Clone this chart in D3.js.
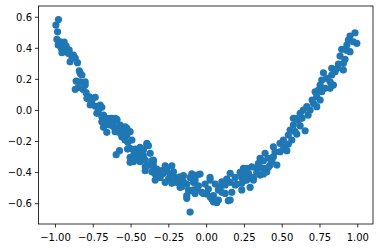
<!DOCTYPE html>
<html>
<head>
<meta charset="utf-8">
<script src="https://cdn.jsdelivr.net/npm/d3@7"></script>
<style>
  body { margin: 0; background: #fff; }
  svg { display: block; }
  text { font-family: "DejaVu Sans", sans-serif; }
</style>
</head>
<body>
<div id="chart"></div>
<script>
// scatter values, [x, y]
const points = [
  [-0.977, 0.582], [-0.994, 0.546], [-0.983, 0.503], [-0.987, 0.454], [-0.966, 0.439],
  [-0.952, 0.424], [-0.939, 0.437], [-0.979, 0.418], [-0.959, 0.398], [-0.946, 0.405],
  [-0.926, 0.411], [-0.919, 0.392], [-0.933, 0.379], [-0.954, 0.368], [-0.911, 0.364],
  [-0.906, 0.385], [-0.878, 0.353], [-0.888, 0.342], [-0.900, 0.310], [-0.851, 0.304],
  [-0.866, 0.334], [-0.839, 0.252], [-0.833, 0.236], [-0.822, 0.225], [-0.860, 0.186],
  [-0.833, 0.181], [-0.800, 0.181], [-0.845, 0.145], [-0.815, 0.133], [-0.866, 0.133],
  [-0.800, 0.160], [-0.794, 0.111], [-0.772, 0.085], [-0.734, 0.081], [-0.762, 0.053],
  [-0.755, 0.064], [-0.789, 0.075], [-0.767, 0.032], [-0.734, 0.025], [-0.701, 0.032],
  [-0.706, 0.017], [-0.690, 0.017], [-0.712, -0.001], [-0.723, -0.022], [-0.690, -0.044],
  [-0.679, -0.033], [-0.657, -0.054], [-0.624, -0.054], [-0.591, -0.060], [-0.635, -0.054],
  [-0.602, -0.054], [-0.690, -0.076], [-0.657, -0.065], [-0.624, -0.076], [-0.591, -0.065],
  [-0.635, -0.097], [-0.569, -0.097], [-0.524, -0.118], [-0.547, -0.118], [-0.580, -0.118],
  [-0.679, -0.112], [-0.657, -0.144], [-0.613, -0.102], [-0.580, -0.144], [-0.547, -0.176],
  [-0.518, -0.208], [-0.573, -0.262], [-0.595, -0.288], [-0.520, -0.252], [-0.503, -0.305],
  [-0.503, -0.337], [-0.668, -0.097], [-0.624, -0.086], [-0.602, -0.140], [-0.613, -0.108],
  [-0.536, -0.108], [-0.503, -0.140], [-0.558, -0.172], [-0.536, -0.194], [-0.524, -0.162],
  [-0.491, -0.194], [-0.503, -0.247], [-0.481, -0.258], [-0.448, -0.269], [-0.392, -0.226],
  [-0.458, -0.301], [-0.425, -0.290], [-0.481, -0.333], [-0.437, -0.333], [-0.370, -0.279],
  [-0.370, -0.355], [-0.349, -0.333], [-0.403, -0.366], [-0.558, -0.155], [-0.524, -0.144],
  [-0.470, -0.252], [-0.437, -0.241], [-0.382, -0.230], [-0.481, -0.295], [-0.458, -0.316],
  [-0.415, -0.295], [-0.359, -0.327], [-0.403, -0.391], [-0.392, -0.359], [-0.349, -0.359],
  [-0.326, -0.380], [-0.337, -0.412], [-0.293, -0.391], [-0.304, -0.434], [-0.271, -0.359],
  [-0.227, -0.359], [-0.238, -0.412], [-0.249, -0.445], [-0.216, -0.434], [-0.271, -0.466],
  [-0.194, -0.466], [-0.183, -0.434], [-0.161, -0.466], [-0.150, -0.423], [-0.172, -0.498],
  [-0.128, -0.477], [-0.106, -0.434], [-0.095, -0.412], [-0.084, -0.466], [-0.128, -0.552],
  [-0.095, -0.520], [-0.106, -0.657], [-0.040, -0.413], [-0.051, -0.488], [-0.062, -0.509],
  [-0.028, -0.530], [-0.007, -0.477], [0.005, -0.541], [0.026, -0.434], [0.015, -0.509],
  [0.038, -0.573], [0.071, -0.595], [0.048, -0.552], [0.060, -0.477], [0.093, -0.498],
  [0.104, -0.530], [0.137, -0.445], [0.159, -0.466], [0.147, -0.584], [0.170, -0.530],
  [0.192, -0.434], [0.203, -0.477], [0.225, -0.402], [0.236, -0.434], [0.269, -0.412],
  [0.280, -0.434], [-0.392, -0.215], [-0.415, -0.258], [-0.403, -0.322], [-0.349, -0.322],
  [-0.359, -0.398], [-0.315, -0.419], [-0.337, -0.451], [-0.282, -0.408], [-0.260, -0.376],
  [-0.216, -0.398], [-0.227, -0.472], [-0.172, -0.430], [-0.150, -0.462], [-0.161, -0.494],
  [-0.128, -0.569], [-0.117, -0.515], [-0.073, -0.451], [-0.084, -0.515], [-0.062, -0.419],
  [-0.073, -0.537], [-0.018, -0.537], [0.026, -0.559], [0.048, -0.591], [0.081, -0.580],
  [0.026, -0.451], [0.104, -0.462], [0.126, -0.483], [0.081, -0.515], [0.126, -0.537],
  [0.159, -0.580], [0.159, -0.408], [0.192, -0.483], [0.247, -0.376], [0.236, -0.472],
  [0.258, -0.451], [0.236, -0.515], [0.280, -0.408], [0.589, -0.054], [0.577, -0.097],
  [0.556, -0.129], [0.589, -0.140], [0.544, -0.162], [0.567, -0.194], [0.511, -0.194],
  [0.489, -0.215], [0.522, -0.237], [0.445, -0.237], [0.456, -0.269], [0.489, -0.269],
  [0.390, -0.279], [0.412, -0.311], [0.445, -0.301], [0.468, -0.355], [0.423, -0.355],
  [0.357, -0.311], [0.346, -0.344], [0.335, -0.376], [0.379, -0.376], [0.401, -0.398],
  [0.302, -0.366], [0.269, -0.376], [0.247, -0.419], [0.269, -0.451], [0.313, -0.451],
  [0.357, -0.419], [0.622, -0.102], [0.655, -0.134], [0.600, -0.155], [0.511, -0.252],
  [0.544, -0.219], [0.534, -0.262], [0.379, -0.327], [0.435, -0.327], [0.412, -0.369],
  [0.357, -0.369], [0.335, -0.401], [0.379, -0.412], [0.313, -0.434], [0.291, -0.498],
  [0.985, 0.497], [0.952, 0.476], [0.974, 0.439], [0.997, 0.429], [0.941, 0.450],
  [0.931, 0.418], [0.897, 0.390], [0.952, 0.375], [0.919, 0.326], [0.908, 0.300],
  [0.875, 0.295], [0.868, 0.268], [0.908, 0.257], [0.831, 0.268], [0.853, 0.246],
  [0.831, 0.225], [0.776, 0.239], [0.798, 0.203], [0.765, 0.192], [0.820, 0.181],
  [0.842, 0.160], [0.820, 0.139], [0.787, 0.139], [0.754, 0.160], [0.743, 0.128],
  [0.721, 0.117], [0.765, 0.117], [0.732, 0.085], [0.754, 0.064], [0.710, 0.042],
  [0.666, 0.021], [0.643, -0.001], [0.688, -0.001], [0.732, 0.021], [0.622, -0.022],
  [0.577, -0.054], [0.610, -0.065], [0.675, -0.033], [0.635, -0.052], [0.701, 0.064],
  [0.886, 0.347], [0.930, 0.385]
];

const xTicks = [-1, -0.75, -0.5, -0.25, 0, 0.25, 0.5, 0.75, 1];
const yTicks = [-0.6, -0.4, -0.2, 0, 0.2, 0.4, 0.6];
const xLimits = [-1.109, 1.104];
const yLimits = [-0.734, 0.669];

const width = 380;
const height = 248;
const margin = {left: 38.5, right: 7, top: 6, bottom: 24};

const svg = d3.select("#chart")
  .append("svg")
  .attr("width", width)
  .attr("height", height);

const xScale = d3.scaleLinear()
  .domain(xLimits)
  .range([margin.left, width - margin.right]);

const yScale = d3.scaleLinear()
  .domain(yLimits)
  .range([height - margin.bottom, margin.top]);

// dots
svg.append("g")
  .selectAll("circle")
  .data(points)
  .enter()
  .append("circle")
    .attr("cx", d => xScale(d[0]))
    .attr("cy", d => yScale(d[1]))
    .attr("r", 3.6)
    .attr("fill", "#1f77b4");

// x axis
const xAxis = svg.append("g")
  .attr("transform", `translate(0,${height - margin.bottom})`)
  .call(d3.axisBottom(xScale)
    .tickValues(xTicks)
    .tickFormat(d3.format(".2f"))
    .tickSizeInner(3.5)
    .tickSizeOuter(0));
xAxis.select(".domain").remove();
xAxis.selectAll("line").attr("stroke", "#000").attr("stroke-width", 0.8);
xAxis.selectAll("text")
  .attr("y", 16.5).attr("dy", null)
  .attr("fill", "#000").attr("font-size", 10)
  .attr("font-family", "DejaVu Sans");

// y axis
const yAxis = svg.append("g")
  .attr("transform", `translate(${margin.left},0)`)
  .call(d3.axisLeft(yScale)
    .tickValues(yTicks)
    .tickFormat(d3.format(".1f"))
    .tickSizeInner(3.5)
    .tickSizeOuter(0));
yAxis.select(".domain").remove();
yAxis.selectAll("line").attr("stroke", "#000").attr("stroke-width", 0.8);
yAxis.selectAll("text")
  .attr("x", -6.5).attr("dy", "0.36em")
  .attr("fill", "#000").attr("font-size", 10)
  .attr("font-family", "DejaVu Sans");

// frame
svg.append("rect")
  .attr("x", margin.left)
  .attr("y", margin.top)
  .attr("width", width - margin.left - margin.right)
  .attr("height", height - margin.top - margin.bottom)
  .attr("fill", "none")
  .attr("stroke", "#000")
  .attr("stroke-width", 0.8);
</script>
</body>
</html>
